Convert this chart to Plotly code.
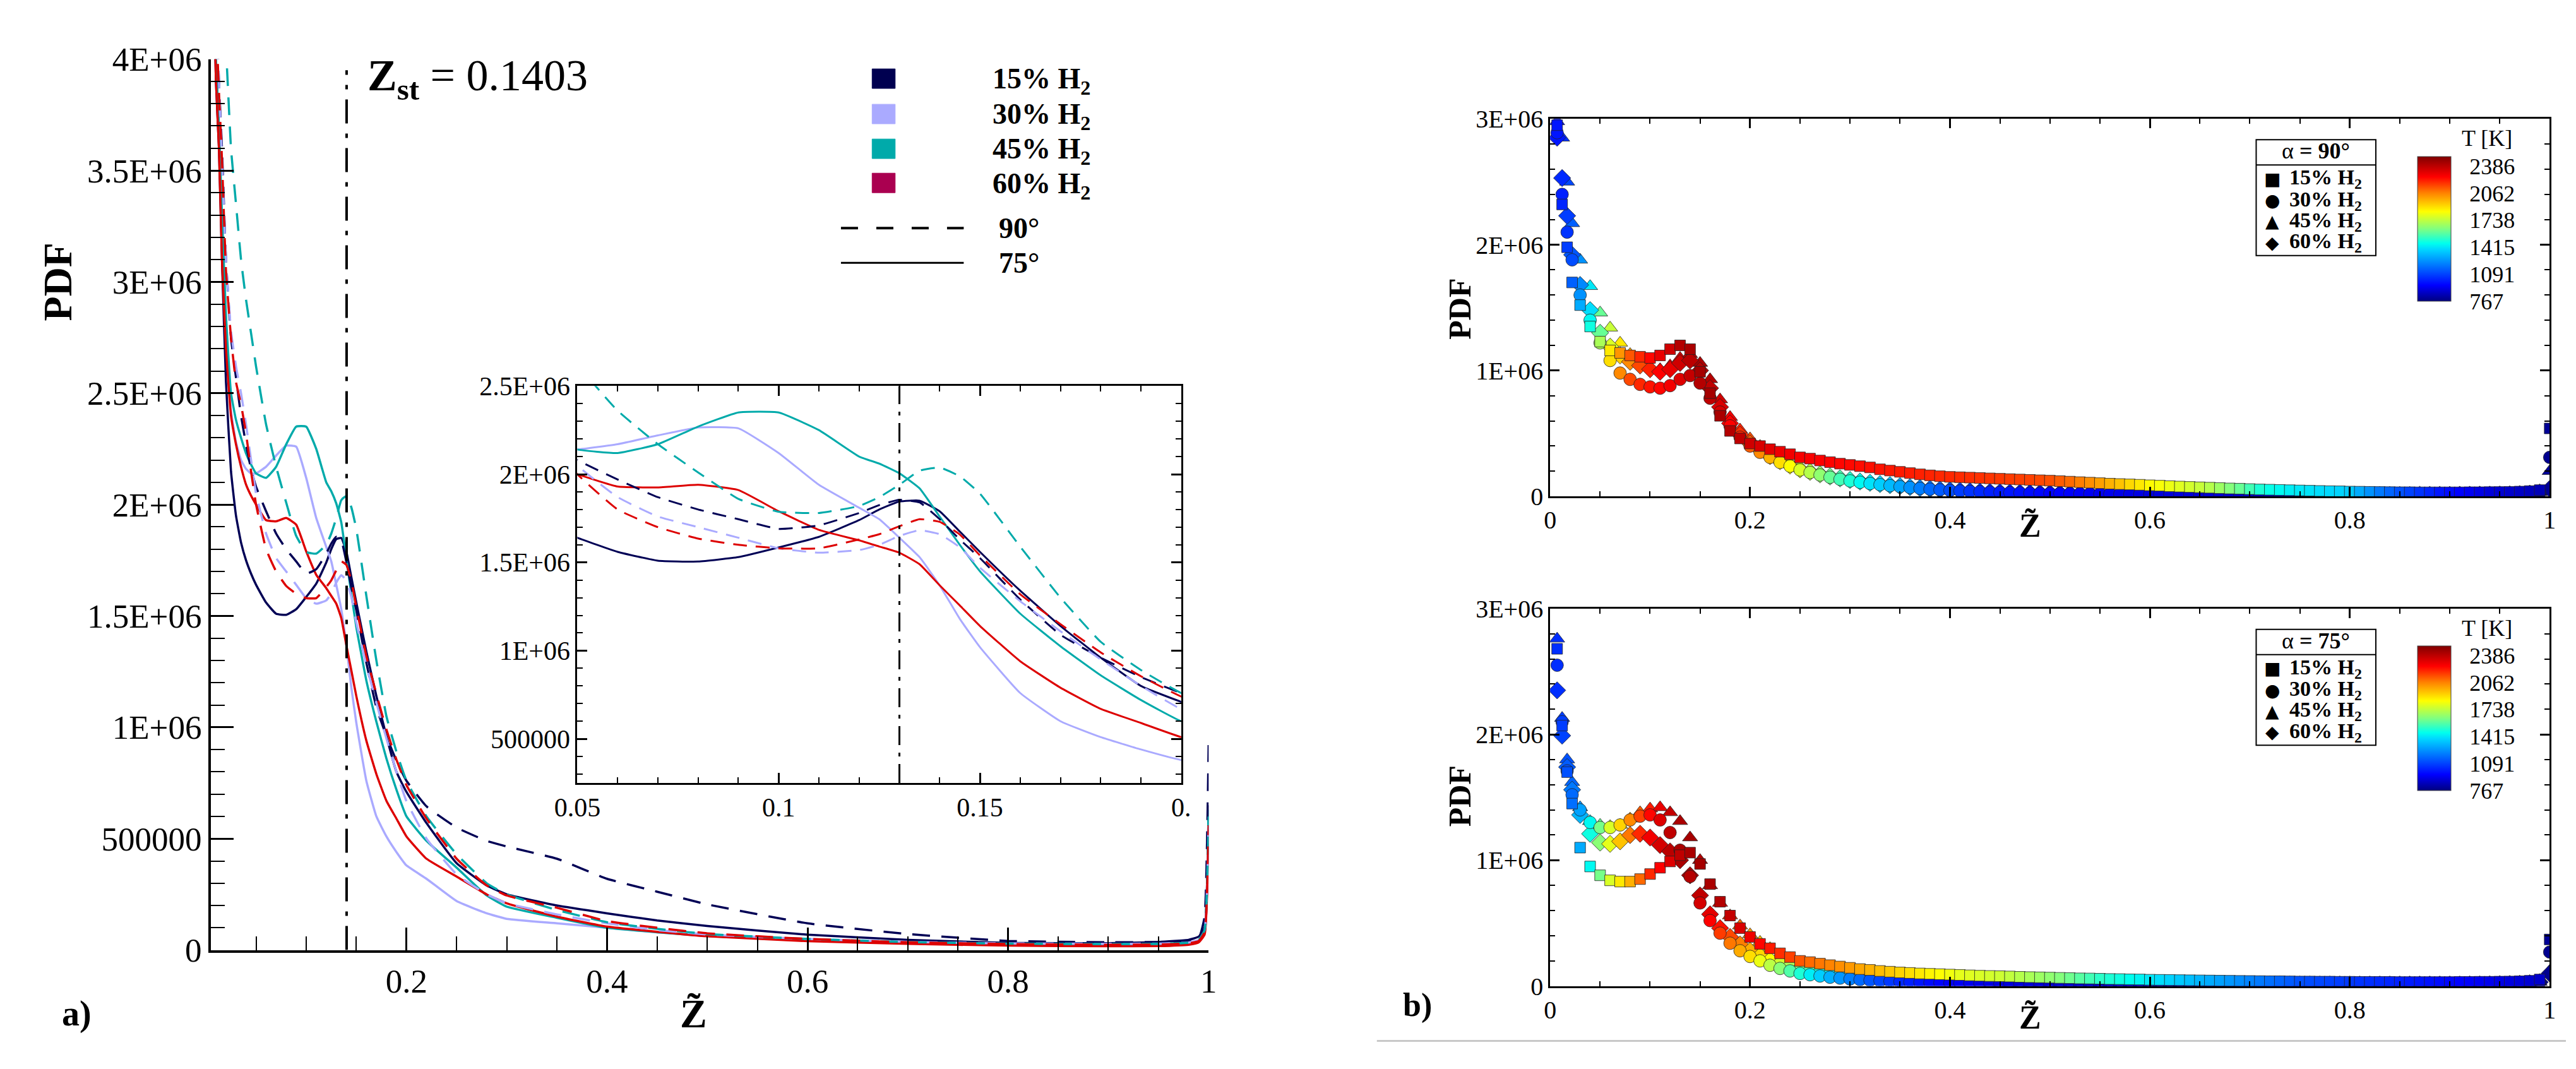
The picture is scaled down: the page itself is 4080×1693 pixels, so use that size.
import plotly.graph_objects as go

W, H = 4080, 1693
SERIF = "Liberation Serif"


def fx(p):
    return p / W


def fy(p):
    return 1 - p / H


# ----------------------------------------------------------------- data
# Panel a): PDF of mixture fraction (values in units of 1e6)
ZM = [0.008, 0.010, 0.013, 0.016, 0.020, 0.025, 0.030, 0.035, 0.040, 0.045,
      0.050, 0.060, 0.070, 0.080, 0.090, 0.100, 0.110, 0.120, 0.125, 0.130,
      0.135, 0.140, 0.145, 0.150, 0.160, 0.170, 0.180, 0.190, 0.200, 0.220,
      0.250, 0.280, 0.300, 0.350, 0.400, 0.450, 0.500, 0.600, 0.700, 0.800,
      0.900, 0.950, 0.980, 0.990, 0.996, 1.000]

A15_75 = [4.3, 3.9, 3.6, 3.1, 2.55, 2.15, 1.95, 1.83, 1.75, 1.69,
          1.64, 1.56, 1.51, 1.505, 1.53, 1.585, 1.645, 1.74, 1.80, 1.845,
          1.85, 1.79, 1.675, 1.56, 1.34, 1.14, 0.96, 0.80, 0.71, 0.57,
          0.39, 0.29, 0.25, 0.20, 0.165, 0.133, 0.108, 0.069, 0.046, 0.032,
          0.031, 0.036, 0.046, 0.06, 0.10, 0.65]
A15_90 = [4.6, 4.3, 3.9, 3.6, 3.1, 2.75, 2.57, 2.4, 2.27, 2.16,
          2.08, 1.97, 1.87, 1.80, 1.745, 1.69, 1.71, 1.78, 1.825, 1.855,
          1.84, 1.745, 1.63, 1.525, 1.29, 1.09, 0.96, 0.85, 0.76, 0.645,
          0.55, 0.49, 0.465, 0.41, 0.32, 0.262, 0.205, 0.12, 0.072, 0.041,
          0.035, 0.036, 0.04, 0.05, 0.15, 0.92]
A30_75 = [4.4, 4.0, 3.65, 3.2, 2.75, 2.42, 2.28, 2.2, 2.16, 2.14,
          2.14, 2.17, 2.22, 2.265, 2.26, 2.12, 1.94, 1.81, 1.745, 1.64,
          1.53, 1.37, 1.18, 1.02, 0.76, 0.60, 0.51, 0.44, 0.38, 0.32,
          0.22, 0.165, 0.14, 0.12, 0.10, 0.08, 0.065, 0.046, 0.035, 0.028,
          0.025, 0.026, 0.032, 0.042, 0.08, 0.55]
A30_90 = [4.6, 4.3, 3.9, 3.55, 3.1, 2.78, 2.62, 2.5, 2.36, 2.2,
          2.05, 1.87, 1.76, 1.70, 1.64, 1.58, 1.555, 1.57, 1.60, 1.65,
          1.683, 1.66, 1.586, 1.47, 1.28, 1.11, 0.95, 0.80, 0.668, 0.50,
          0.34, 0.25, 0.21, 0.16, 0.12, 0.09, 0.07, 0.05, 0.037, 0.03,
          0.028, 0.029, 0.034, 0.045, 0.09, 0.58]
A45_75 = [4.4, 4.0, 3.7, 3.3, 2.85, 2.5, 2.38, 2.3, 2.23, 2.18,
          2.14, 2.12, 2.17, 2.27, 2.35, 2.35, 2.25, 2.10, 2.06, 2.005,
          1.92, 1.76, 1.60, 1.45, 1.21, 1.025, 0.86, 0.72, 0.60, 0.49,
          0.37, 0.245, 0.195, 0.145, 0.10, 0.08, 0.063, 0.045, 0.032, 0.025,
          0.022, 0.024, 0.03, 0.04, 0.08, 0.63]
A45_90 = [5.0, 4.8, 4.5, 4.3, 4.05, 3.6, 3.35, 3.1, 2.92, 2.77,
          2.62, 2.36, 2.17, 2.01, 1.86, 1.787, 1.78, 1.82, 1.87, 1.94,
          2.02, 2.038, 1.988, 1.89, 1.59, 1.30, 1.05, 0.89, 0.76, 0.60,
          0.43, 0.30, 0.25, 0.18, 0.125, 0.095, 0.072, 0.05, 0.036, 0.029,
          0.027, 0.028, 0.033, 0.045, 0.09, 0.60]
A60_75 = [4.3, 3.9, 3.6, 3.1, 2.7, 2.4, 2.27, 2.17, 2.09, 2.04,
          2.0, 1.93, 1.925, 1.94, 1.91, 1.79, 1.685, 1.625, 1.59, 1.555,
          1.49, 1.37, 1.256, 1.14, 0.94, 0.79, 0.67, 0.59, 0.51, 0.41,
          0.33, 0.25, 0.21, 0.15, 0.105, 0.082, 0.062, 0.04, 0.028, 0.02,
          0.017, 0.018, 0.024, 0.034, 0.07, 0.54]
A60_90 = [4.5, 4.2, 3.85, 3.55, 3.05, 2.75, 2.55, 2.45, 2.32, 2.15,
          2.0, 1.8, 1.7, 1.635, 1.6, 1.58, 1.58, 1.63, 1.66, 1.705,
          1.745, 1.73, 1.658, 1.54, 1.32, 1.15, 0.99, 0.855, 0.74, 0.59,
          0.41, 0.29, 0.245, 0.19, 0.13, 0.10, 0.075, 0.05, 0.035, 0.027,
          0.024, 0.025, 0.03, 0.04, 0.08, 0.56]

Z_ST_MAIN = 0.1403
Z_ST_INSET = 0.13

# Panel b): PDF (units of 1e6) and temperature [K] along Z
ZR = [0.007, 0.012, 0.017, 0.022] + [round(0.03 + 0.01 * i, 2) for i in range(98)]

# alpha = 90 deg
U15 = [2.95, 2.32, 1.98, 1.70,
       1.52, 1.35, 1.23, 1.16, 1.14, 1.12, 1.11, 1.10, 1.12, 1.17,
       1.20, 1.17, 0.99, 0.82, 0.64, 0.52, 0.46, 0.42, 0.40, 0.375,
       0.355, 0.335, 0.31, 0.30, 0.285, 0.272, 0.26, 0.25,
       0.24, 0.23, 0.215, 0.205, 0.195, 0.185, 0.175, 0.167, 0.16, 0.155,
       0.152, 0.149, 0.146, 0.143, 0.14, 0.137, 0.134, 0.131, 0.128, 0.125,
       0.121, 0.117, 0.113, 0.109, 0.105, 0.101, 0.098, 0.095, 0.092, 0.088,
       0.085, 0.081, 0.078, 0.075, 0.072, 0.069, 0.066, 0.063, 0.061, 0.058,
       0.055, 0.053, 0.051, 0.049, 0.047, 0.045, 0.043, 0.041, 0.04, 0.038,
       0.037, 0.036, 0.035, 0.034, 0.033, 0.033, 0.032, 0.032, 0.032, 0.032,
       0.032, 0.033, 0.033, 0.034, 0.035, 0.036, 0.038, 0.042, 0.05, 0.54]
TU15 = [1000, 1030, 1080, 1150,
        1300, 1480, 1700, 1880, 2030, 2130, 2200, 2250, 2300, 2350,
        2400, 2420, 2430, 2430, 2420, 2400, 2380, 2350, 2330, 2310,
        2290, 2280, 2270, 2265, 2260, 2255, 2250, 2245,
        2240, 2235, 2230, 2225, 2220, 2215, 2210, 2205, 2200, 2200,
        2195, 2190, 2185, 2180, 2175, 2170, 2165, 2160, 2150, 2140,
        2120, 2100, 2070, 2040, 2010, 1980, 1950, 1910, 1880, 1850,
        1830, 1810, 1790, 1770, 1750, 1720, 1680, 1640, 1600, 1550,
        1500, 1470, 1450, 1430, 1420, 1410, 1400, 1390, 1380, 1360,
        1300, 1250, 1200, 1160, 1120, 1090, 1060, 1030, 1000, 980,
        960, 940, 920, 900, 890, 880, 870, 860, 850, 800]
U30 = [2.89, 2.40, 2.10, 1.88,
       1.60, 1.40, 1.22, 1.08, 0.98, 0.93, 0.89, 0.87, 0.86, 0.88,
       0.93, 0.96, 0.90, 0.78, 0.67, 0.56, 0.47, 0.40, 0.35, 0.31,
       0.27, 0.24, 0.21, 0.19, 0.17, 0.152, 0.136, 0.123,
       0.112, 0.102, 0.093, 0.085, 0.077, 0.07, 0.063, 0.057, 0.052, 0.047,
       0.043, 0.04, 0.037, 0.034, 0.032, 0.03, 0.028, 0.026, 0.025, 0.024,
       0.023, 0.022, 0.021, 0.020, 0.019, 0.018, 0.018, 0.017, 0.017, 0.016,
       0.016, 0.015, 0.015, 0.015, 0.014, 0.014, 0.014, 0.013, 0.013, 0.013,
       0.013, 0.012, 0.012, 0.012, 0.012, 0.012, 0.011, 0.011, 0.011, 0.011,
       0.011, 0.011, 0.011, 0.011, 0.011, 0.011, 0.011, 0.012, 0.012, 0.012,
       0.012, 0.013, 0.013, 0.014, 0.015, 0.016, 0.018, 0.022, 0.03, 0.31]
TU30 = [1000, 1020, 1060, 1110,
        1250, 1450, 1700, 1900, 2050, 2150, 2200, 2230, 2250, 2280,
        2320, 2370, 2400, 2380, 2330, 2260, 2200, 2120, 2050, 1980,
        1900, 1840, 1780, 1720, 1660, 1600, 1550, 1500,
        1450, 1410, 1370, 1330, 1290, 1250, 1210, 1170, 1140, 1110,
        1080, 1060, 1040, 1020, 1010, 1000, 990, 980, 970, 960,
        955, 950, 945, 940, 935, 930, 925, 920, 915, 910,
        905, 900, 900, 895, 890, 890, 885, 885, 880, 880,
        875, 875, 870, 870, 870, 865, 865, 860, 860, 860,
        855, 855, 850, 850, 850, 845, 845, 840, 840, 840,
        835, 835, 830, 830, 825, 825, 820, 815, 810, 790]
U45 = [2.98, 2.85, 2.50, 2.17,
       1.88, 1.67, 1.46, 1.34, 1.22, 1.13, 1.07, 1.03, 1.01, 1.04,
       1.10, 1.13, 1.06, 0.93, 0.77, 0.63, 0.53, 0.46, 0.40, 0.35,
       0.30, 0.26, 0.225, 0.205, 0.185, 0.168, 0.152, 0.14,
       0.127, 0.116, 0.105, 0.095, 0.086, 0.078, 0.07, 0.063, 0.057, 0.052,
       0.047, 0.043, 0.04, 0.037, 0.034, 0.032, 0.03, 0.028, 0.027, 0.026,
       0.025, 0.024, 0.023, 0.022, 0.021, 0.02, 0.019, 0.019, 0.018, 0.018,
       0.017, 0.017, 0.016, 0.016, 0.016, 0.015, 0.015, 0.015, 0.014, 0.014,
       0.014, 0.014, 0.013, 0.013, 0.013, 0.013, 0.013, 0.013, 0.012, 0.012,
       0.012, 0.012, 0.012, 0.012, 0.012, 0.012, 0.013, 0.013, 0.013, 0.013,
       0.014, 0.014, 0.015, 0.015, 0.016, 0.017, 0.019, 0.023, 0.032, 0.20]
TU45 = [1000, 1050, 1100, 1150,
        1250, 1420, 1600, 1750, 1880, 2000, 2120, 2200, 2260, 2310,
        2360, 2400, 2420, 2400, 2350, 2280, 2210, 2140, 2070, 2000,
        1930, 1860, 1800, 1740, 1680, 1620, 1570, 1520,
        1470, 1430, 1390, 1350, 1310, 1270, 1230, 1190, 1160, 1130,
        1100, 1080, 1060, 1040, 1020, 1010, 1000, 990, 980, 970,
        960, 955, 950, 945, 940, 935, 930, 925, 920, 915,
        910, 905, 900, 900, 895, 890, 890, 885, 885, 880,
        880, 875, 875, 870, 870, 865, 865, 860, 860, 860,
        855, 855, 850, 850, 850, 845, 845, 840, 840, 840,
        835, 835, 830, 830, 825, 825, 820, 815, 810, 800]
U60 = [2.85, 2.53, 2.23, 1.92,
       1.68, 1.48, 1.30, 1.19, 1.12, 1.07, 1.04, 1.01, 0.99, 1.01,
       1.06, 1.08, 1.00, 0.86, 0.71, 0.58, 0.49, 0.42, 0.37, 0.32,
       0.28, 0.245, 0.215, 0.195, 0.175, 0.158, 0.143, 0.13,
       0.118, 0.108, 0.098, 0.089, 0.081, 0.073, 0.066, 0.06, 0.054, 0.049,
       0.045, 0.041, 0.038, 0.035, 0.033, 0.031, 0.029, 0.027, 0.026, 0.025,
       0.024, 0.023, 0.022, 0.021, 0.02, 0.019, 0.018, 0.018, 0.017, 0.017,
       0.016, 0.016, 0.015, 0.015, 0.015, 0.014, 0.014, 0.014, 0.013, 0.013,
       0.013, 0.013, 0.012, 0.012, 0.012, 0.012, 0.012, 0.012, 0.011, 0.011,
       0.011, 0.011, 0.011, 0.011, 0.011, 0.011, 0.012, 0.012, 0.012, 0.012,
       0.013, 0.013, 0.014, 0.014, 0.015, 0.016, 0.018, 0.022, 0.031, 0.06]
TU60 = [1000, 1040, 1080, 1130,
        1230, 1400, 1600, 1780, 1930, 2050, 2150, 2210, 2260, 2300,
        2350, 2390, 2400, 2380, 2330, 2260, 2190, 2120, 2050, 1980,
        1910, 1850, 1790, 1730, 1670, 1610, 1560, 1510,
        1460, 1420, 1380, 1340, 1300, 1260, 1220, 1180, 1150, 1120,
        1090, 1070, 1050, 1030, 1015, 1005, 995, 985, 975, 965,
        960, 955, 950, 945, 940, 935, 930, 925, 920, 915,
        910, 905, 900, 900, 895, 890, 890, 885, 885, 880,
        880, 875, 875, 870, 870, 865, 865, 860, 860, 860,
        855, 855, 850, 850, 850, 845, 845, 840, 840, 840,
        835, 835, 830, 830, 825, 825, 820, 815, 810, 800]

# alpha = 75 deg
L15 = [2.68, 2.07, 1.70, 1.45,
       1.10, 0.95, 0.88, 0.84, 0.83, 0.83, 0.85, 0.89, 0.94, 0.99,
       1.04, 1.06, 0.97, 0.81, 0.67, 0.56, 0.46, 0.39, 0.335, 0.30,
       0.26, 0.23, 0.20, 0.19, 0.178, 0.166, 0.155, 0.145,
       0.135, 0.128, 0.12, 0.114, 0.108, 0.104, 0.1, 0.097, 0.094, 0.091,
       0.088, 0.085, 0.082, 0.08, 0.078, 0.076, 0.073, 0.071, 0.069, 0.067,
       0.065, 0.063, 0.061, 0.06, 0.058, 0.056, 0.055, 0.053, 0.052, 0.05,
       0.049, 0.048, 0.047, 0.046, 0.045, 0.044, 0.043, 0.042, 0.041, 0.04,
       0.039, 0.038, 0.038, 0.037, 0.036, 0.036, 0.035, 0.035, 0.034, 0.034,
       0.033, 0.033, 0.033, 0.033, 0.032, 0.032, 0.032, 0.032, 0.032, 0.032,
       0.033, 0.033, 0.034, 0.034, 0.035, 0.036, 0.038, 0.042, 0.052, 0.37]
TL15 = [1050, 1080, 1120, 1180,
        1300, 1450, 1620, 1780, 1880, 1980, 2100, 2200, 2260, 2320,
        2380, 2420, 2430, 2420, 2400, 2370, 2330, 2290, 2250, 2220,
        2190, 2160, 2130, 2100, 2080, 2060, 2040, 2020,
        2000, 1980, 1960, 1940, 1920, 1900, 1880, 1860, 1840, 1820,
        1800, 1790, 1780, 1770, 1760, 1740, 1720, 1700, 1680, 1660,
        1640, 1610, 1580, 1550, 1520, 1500, 1480, 1460, 1440, 1420,
        1400, 1380, 1360, 1340, 1320, 1300, 1280, 1260, 1240, 1220,
        1200, 1180, 1160, 1140, 1120, 1110, 1100, 1090, 1080, 1070,
        1060, 1050, 1040, 1030, 1020, 1010, 1000, 990, 980, 970,
        960, 950, 940, 930, 920, 910, 900, 890, 880, 800]
L30 = [2.55, 2.10, 1.71, 1.52,
       1.40, 1.30, 1.26, 1.26, 1.28, 1.32, 1.35, 1.36, 1.32, 1.22,
       1.08, 0.87, 0.66, 0.52, 0.42, 0.34, 0.28, 0.235, 0.20, 0.165,
       0.14, 0.12, 0.10, 0.09, 0.08, 0.07, 0.063, 0.056,
       0.051, 0.046, 0.042, 0.038, 0.035, 0.032, 0.03, 0.028, 0.026, 0.024,
       0.023, 0.022, 0.021, 0.02, 0.019, 0.018, 0.018, 0.017, 0.017, 0.016,
       0.016, 0.015, 0.015, 0.015, 0.014, 0.014, 0.014, 0.013, 0.013, 0.013,
       0.013, 0.013, 0.012, 0.012, 0.012, 0.012, 0.012, 0.012, 0.011, 0.011,
       0.011, 0.011, 0.011, 0.011, 0.011, 0.011, 0.011, 0.011, 0.011, 0.011,
       0.011, 0.011, 0.011, 0.011, 0.011, 0.011, 0.011, 0.011, 0.012, 0.012,
       0.012, 0.012, 0.013, 0.013, 0.014, 0.015, 0.017, 0.021, 0.03, 0.27]
TL30 = [1050, 1080, 1120, 1170,
        1280, 1450, 1620, 1780, 1920, 2050, 2160, 2250, 2320, 2380,
        2420, 2400, 2340, 2260, 2170, 2080, 1990, 1900, 1810, 1730,
        1650, 1570, 1500, 1430, 1370, 1310, 1260, 1210,
        1170, 1130, 1100, 1070, 1040, 1020, 1000, 980, 965, 950,
        940, 930, 920, 915, 910, 905, 900, 895, 890, 885,
        880, 878, 876, 874, 872, 870, 868, 866, 864, 862,
        860, 858, 856, 854, 852, 850, 848, 846, 844, 842,
        840, 838, 836, 834, 832, 830, 828, 826, 824, 822,
        820, 818, 816, 814, 812, 810, 808, 806, 804, 802,
        800, 800, 800, 800, 800, 800, 800, 800, 800, 790]
L45 = [2.76, 2.13, 1.80, 1.62,
       1.42, 1.31, 1.28, 1.27, 1.28, 1.33, 1.38, 1.41, 1.42, 1.38,
       1.31, 1.18, 1.0, 0.80, 0.66, 0.56, 0.48, 0.41, 0.35, 0.30,
       0.25, 0.22, 0.19, 0.17, 0.15, 0.13, 0.115, 0.10,
       0.092, 0.084, 0.077, 0.07, 0.064, 0.058, 0.053, 0.048, 0.044, 0.04,
       0.037, 0.034, 0.032, 0.03, 0.028, 0.026, 0.025, 0.024, 0.023, 0.022,
       0.021, 0.02, 0.019, 0.019, 0.018, 0.018, 0.017, 0.017, 0.016, 0.016,
       0.016, 0.015, 0.015, 0.015, 0.015, 0.014, 0.014, 0.014, 0.014, 0.014,
       0.013, 0.013, 0.013, 0.013, 0.013, 0.013, 0.013, 0.013, 0.013, 0.013,
       0.013, 0.013, 0.013, 0.013, 0.013, 0.013, 0.013, 0.013, 0.013, 0.013,
       0.013, 0.014, 0.014, 0.015, 0.016, 0.017, 0.019, 0.023, 0.032, 0.12]
TL45 = [1050, 1080, 1120, 1160,
        1250, 1420, 1600, 1750, 1880, 2000, 2120, 2220, 2300, 2370,
        2420, 2430, 2400, 2340, 2260, 2180, 2100, 2020, 1950, 1880,
        1800, 1720, 1650, 1580, 1520, 1460, 1400, 1340,
        1290, 1240, 1190, 1150, 1110, 1080, 1050, 1020, 1000, 980,
        965, 950, 940, 930, 920, 912, 905, 898, 892, 886,
        880, 876, 872, 868, 864, 860, 857, 854, 851, 848,
        845, 843, 841, 839, 837, 835, 833, 831, 829, 827,
        825, 824, 823, 822, 821, 820, 819, 818, 817, 816,
        815, 814, 813, 812, 811, 810, 809, 808, 807, 806,
        805, 804, 803, 802, 801, 800, 799, 798, 797, 790]
L60 = [2.35, 1.99, 1.74, 1.56,
       1.36, 1.21, 1.14, 1.13, 1.15, 1.20, 1.21, 1.18, 1.12, 1.07,
       1.0, 0.88, 0.72, 0.57, 0.46, 0.39, 0.33, 0.28, 0.24, 0.205,
       0.18, 0.16, 0.14, 0.125, 0.112, 0.1, 0.09, 0.08,
       0.072, 0.065, 0.059, 0.054, 0.05, 0.046, 0.042, 0.039, 0.036, 0.033,
       0.031, 0.029, 0.027, 0.026, 0.025, 0.024, 0.023, 0.022, 0.021, 0.02,
       0.019, 0.019, 0.018, 0.018, 0.017, 0.017, 0.016, 0.016, 0.016, 0.015,
       0.015, 0.015, 0.015, 0.014, 0.014, 0.014, 0.014, 0.013, 0.013, 0.013,
       0.013, 0.013, 0.013, 0.012, 0.012, 0.012, 0.012, 0.012, 0.012, 0.012,
       0.012, 0.012, 0.012, 0.012, 0.012, 0.012, 0.012, 0.012, 0.012, 0.012,
       0.012, 0.013, 0.013, 0.014, 0.015, 0.016, 0.018, 0.022, 0.031, 0.10]
TL60 = [1050, 1090, 1140, 1200,
        1320, 1480, 1650, 1800, 1950, 2080, 2200, 2280, 2340, 2390,
        2420, 2420, 2380, 2310, 2230, 2150, 2070, 1990, 1910, 1840,
        1770, 1700, 1630, 1560, 1500, 1440, 1380, 1330,
        1280, 1230, 1190, 1150, 1110, 1080, 1050, 1020, 1000, 980,
        965, 950, 940, 930, 920, 912, 905, 898, 892, 886,
        880, 876, 872, 868, 864, 860, 857, 854, 851, 848,
        845, 843, 841, 839, 837, 835, 833, 831, 829, 827,
        825, 824, 823, 822, 821, 820, 819, 818, 817, 816,
        815, 814, 813, 812, 811, 810, 809, 808, 807, 806,
        805, 804, 803, 802, 801, 800, 799, 798, 797, 790]

T_TICKS = [767, 1091, 1415, 1738, 2062, 2386]
T_MIN, T_MAX = 767, 2500

for name, arr in [("A15_75", A15_75), ("A15_90", A15_90), ("A30_75", A30_75),
                  ("A30_90", A30_90), ("A45_75", A45_75), ("A45_90", A45_90),
                  ("A60_75", A60_75), ("A60_90", A60_90)]:
    if len(arr) != len(ZM):
        raise ValueError(f"{name}: {len(arr)} vs {len(ZM)}")
for name, arr in [("U15", U15), ("TU15", TU15), ("U30", U30), ("TU30", TU30),
                  ("U45", U45), ("TU45", TU45), ("U60", U60), ("TU60", TU60),
                  ("L15", L15), ("TL15", TL15), ("L30", L30), ("TL30", TL30),
                  ("L45", L45), ("TL45", TL45), ("L60", L60), ("TL60", TL60)]:
    if len(arr) != len(ZR):
        raise ValueError(f"{name}: {len(arr)} vs {len(ZR)}")

# ----------------------------------------------------------------- style
NAVY = "#000055"
LAV = "#AAAAFF"
TEAL = "#00AAAA"
RED = "#DD0000"
LEG_COLORS = ["#000050", "#AAAAFF", "#00AAAA", "#AA0050"]

JET = [[0.0, "#000080"], [0.11, "#0000ff"], [0.36, "#00d8ff"], [0.40, "#00ffee"],
       [0.5, "#80ff80"], [0.62, "#ffff00"], [0.75, "#ff8000"], [0.86, "#ff0000"],
       [1.0, "#800000"]]

fig = go.Figure()

main_lines = [
    (A15_75, NAVY, "solid"), (A30_75, LAV, "solid"), (A45_75, TEAL, "solid"),
    (A60_75, RED, "solid"),
    (A15_90, NAVY, "dash"), (A30_90, LAV, "dash"), (A45_90, TEAL, "dash"),
    (A60_90, RED, "dash"),
]
for vals, col, dash in main_lines:
    yv = [v * 1e6 for v in vals]
    fig.add_trace(go.Scatter(
        x=ZM, y=yv, mode="lines", xaxis="x", yaxis="y", hoverinfo="skip",
        line=dict(color=col, width=3.5, shape="spline", smoothing=0.4,
                  dash="solid" if dash == "solid" else "28px,18px")))
for vals, col, dash in main_lines:
    yv = [v * 1e6 for v in vals]
    fig.add_trace(go.Scatter(
        x=ZM, y=yv, mode="lines", xaxis="x2", yaxis="y2", hoverinfo="skip",
        line=dict(color=col, width=3, shape="spline", smoothing=0.4,
                  dash="solid" if dash == "solid" else "22px,14px")))

SYMS = {"15": ("square", 17), "30": ("circle", 20), "45": ("triangle-up", 21),
        "60": ("diamond", 21)}
upper = [("45", U45, TU45), ("60", U60, TU60), ("30", U30, TU30), ("15", U15, TU15)]
lower = [("45", L45, TL45), ("60", L60, TL60), ("30", L30, TL30), ("15", L15, TL15)]
for panel, (xa, ya, cax) in [(upper, ("x3", "y3", "coloraxis")),
                             (lower, ("x4", "y4", "coloraxis2"))]:
    for key, pv, tv in panel:
        sym, size = SYMS[key]
        fig.add_trace(go.Scatter(
            x=ZR, y=[v * 1e6 for v in pv], mode="markers", xaxis=xa, yaxis=ya,
            hoverinfo="skip",
            marker=dict(symbol=sym, size=size, color=tv, coloraxis=cax,
                        line=dict(color="#222222", width=0.8))))

# ----------------------------------------------------------------- axes
TF = lambda s: dict(family=SERIF, size=s, color="black")


def ax(**kw):
    base = dict(showgrid=False, zeroline=False, showline=True, linecolor="black",
                ticks="inside", tickcolor="black")
    base.update(kw)
    return base


MAIN_XT = [0.2, 0.4, 0.6, 0.8, 1.0]
MAIN_XL = ["0.2", "0.4", "0.6", "0.8", "1"]
MAIN_YT = [0, 5e5, 1e6, 1.5e6, 2e6, 2.5e6, 3e6, 3.5e6, 4e6]
MAIN_YL = ["0", "500000", "1E+06", "1.5E+06", "2E+06", "2.5E+06", "3E+06",
           "3.5E+06", "4E+06"]
INS_XT = [0.05, 0.1, 0.15, 0.2]
INS_XL = ["0.05", "0.1", "0.15", "0."]
INS_YT = [5e5, 1e6, 1.5e6, 2e6, 2.5e6]
INS_YL = ["500000", "1E+06", "1.5E+06", "2E+06", "2.5E+06"]
R_XT = [0, 0.2, 0.4, 0.6, 0.8, 1.0]
R_XL = ["0", "0.2", "0.4", "0.6", "0.8", "1"]
R_YT = [0, 1e6, 2e6, 3e6]
R_YL = ["0", "1E+06", "2E+06", "3E+06"]

minor_x = [round(0.05 * i, 2) for i in range(1, 20) if i % 4]
minor_main_y = [1e5 * i for i in range(1, 40) if i % 5]
minor_ins_x = [round(0.05 + 0.01 * i, 2) for i in range(1, 15) if i % 5]
minor_ins_y = [1e5 * i for i in range(3, 25) if i % 5]
minor_r_y = [2e5 * i for i in range(1, 15) if i % 5]

layout = dict(
    width=W, height=H, margin=dict(l=0, r=0, t=0, b=0),
    paper_bgcolor="white", plot_bgcolor="#ffffff", showlegend=False,
    xaxis=ax(domain=[fx(301), fx(1902)], range=[0.005, 1.0], anchor="y",
             tickmode="array", tickvals=MAIN_XT, ticktext=MAIN_XL, ticklen=36,
             tickwidth=3, linewidth=4, tickfont=TF(53),
             minor=dict(tickmode="array", tickvals=minor_x, ticklen=22, tickwidth=2,
                        ticks="inside", tickcolor="black")),
    yaxis=ax(domain=[fy(1529), fy(68)], range=[0, 4e6], anchor="x",
             tickmode="array", tickvals=MAIN_YT, ticktext=MAIN_YL, ticklen=36,
             tickwidth=3, linewidth=4, tickfont=TF(53),
             minor=dict(tickmode="array", tickvals=minor_main_y, ticklen=22,
                        tickwidth=2, ticks="inside", tickcolor="black")),
    xaxis2=ax(domain=[fx(889), fx(1858)], range=[0.05, 0.2], anchor="y2",
              mirror="allticks", tickmode="array", tickvals=INS_XT, ticktext=INS_XL,
              ticklen=16, tickwidth=3, linewidth=3, tickfont=TF(42),
              minor=dict(tickmode="array", tickvals=minor_ins_x, ticklen=9,
                         tickwidth=1.5, ticks="inside", tickcolor="black")),
    yaxis2=ax(domain=[fy(1255), fy(604)], range=[2.5e5, 2.5e6], anchor="x2",
              mirror="allticks", tickmode="array", tickvals=INS_YT, ticktext=INS_YL,
              ticklen=16, tickwidth=3, linewidth=3, tickfont=TF(42),
              minor=dict(tickmode="array", tickvals=minor_ins_y, ticklen=9,
                         tickwidth=1.5, ticks="inside", tickcolor="black")),
)
for i, (top, bot) in zip((3, 4), ((166, 785), (969, 1588))):
    layout[f"xaxis{i}"] = ax(domain=[fx(2450), fx(4054)], range=[0, 1], anchor=f"y{i}",
                             mirror="allticks", tickmode="array", tickvals=R_XT,
                             ticktext=R_XL, ticklen=15, tickwidth=2.5, linewidth=3,
                             tickfont=TF(40),
                             minor=dict(tickmode="array", tickvals=minor_x, ticklen=8,
                                        tickwidth=1.5, ticks="inside",
                                        tickcolor="black"))
    layout[f"yaxis{i}"] = ax(domain=[fy(bot), fy(top)], range=[0, 3e6], anchor=f"x{i}",
                             mirror="allticks", tickmode="array", tickvals=R_YT,
                             ticktext=R_YL, ticklen=15, tickwidth=2.5, linewidth=3,
                             tickfont=TF(40),
                             minor=dict(tickmode="array", tickvals=minor_r_y, ticklen=8,
                                        tickwidth=1.5, ticks="inside",
                                        tickcolor="black"))


def cbar(ycenter):
    return dict(colorscale=JET, cmin=T_MIN, cmax=T_MAX,
                colorbar=dict(x=fx(3842), xanchor="left", xpad=0,
                              y=fy(ycenter), yanchor="middle", ypad=0,
                              len=229, lenmode="pixels", thickness=53,
                              thicknessmode="pixels", tickmode="array",
                              tickvals=T_TICKS, ticktext=[str(t) for t in T_TICKS],
                              tickfont=TF(36), ticks="outside", ticklen=22,
                              tickcolor="rgba(0,0,0,0)", outlinewidth=1,
                              outlinecolor="#444444"))


layout["coloraxis"] = cbar(346.5)
layout["coloraxis2"] = cbar(1149)
fig.update_layout(**layout)

# ----------------------------------------------------------------- shapes
shapes = []
# Z_st lines
shapes.append(dict(type="line", xref="x", yref="y", x0=Z_ST_MAIN, x1=Z_ST_MAIN,
                   y0=0, y1=3.95e6, line=dict(color="black", width=4,
                                              dash="38px,16px,7px,16px")))
shapes.append(dict(type="line", xref="x2", yref="y2", x0=Z_ST_INSET, x1=Z_ST_INSET,
                   y0=2.5e5, y1=2.5e6, line=dict(color="black", width=3,
                                                 dash="30px,12px,6px,12px")))
# left legend squares
LEG_Y = [100, 158, 215, 271]
for yc, col in zip(LEG_Y, LEG_COLORS):
    shapes.append(dict(type="rect", xref="paper", yref="paper", x0=fx(1362),
                       x1=fx(1399), y0=fy(yc + 16), y1=fy(yc - 16), fillcolor=col,
                       line=dict(color=col, width=1)))
shapes.append(dict(type="line", xref="paper", yref="paper", x0=fx(1312), x1=fx(1509),
                   y0=fy(345), y1=fy(345),
                   line=dict(color="black", width=4, dash="27px,29px")))
shapes.append(dict(type="line", xref="paper", yref="paper", x0=fx(1312), x1=fx(1509),
                   y0=fy(402), y1=fy(402), line=dict(color="black", width=3)))
# right legend boxes
for off in (0, 803):
    shapes.append(dict(type="rect", xref="paper", yref="paper", x0=fx(3583), x1=fx(3775),
                       y0=fy(390 + off), y1=fy(200 + off), fillcolor="white",
                       line=dict(color="black", width=2)))
    shapes.append(dict(type="line", xref="paper", yref="paper", x0=fx(3583), x1=fx(3775),
                       y0=fy(241.5 + off), y1=fy(241.5 + off),
                       line=dict(color="black", width=2)))
# light rule at the bottom of panel b
shapes.append(dict(type="line", xref="paper", yref="paper", x0=fx(2172), x1=1.0,
                   y0=fy(1678), y1=fy(1678), line=dict(color="#c8c8c8", width=3)))

# ----------------------------------------------------------------- text
anns = []


def text(t, x, y, size, xanchor="left", angle=0, family=SERIF, color="black"):
    anns.append(dict(text=t, x=fx(x), y=fy(y), xref="paper", yref="paper",
                     xanchor=xanchor, yanchor="middle", showarrow=False,
                     textangle=angle, font=dict(family=family, size=size, color=color)))


text("<b>Z</b><sub><b>st</b></sub> = 0.1403", 550, 100, 70)
for yc, pct in zip(LEG_Y, ["15", "30", "45", "60"]):
    text(f"<b>{pct}% H<sub>2</sub></b>", 1553, yc + 4, 46)
text("<b>90°</b>", 1563, 345, 46)
text("<b>75°</b>", 1563, 402, 46)
text("<b>PDF</b>", 55, 433, 64, xanchor="center", angle=-90)
text("<b>Z\u0303</b>", 1075, 1633, 64, xanchor="center")
text("<b>a)</b>", 60, 1633, 56)
text("<b>PDF</b>", 2305, 478, 50, xanchor="center", angle=-90)
text("<b>PDF</b>", 2305, 1277, 50, xanchor="center", angle=-90)
text("<b>Z\u0303</b>", 3220, 833, 52, xanchor="center")
text("<b>Z\u0303</b>", 3220, 1640, 52, xanchor="center")
text("<b>b)</b>", 2212, 1619, 52)
for off, ang in ((0, "90"), (803, "75")):
    text(f"α <b>= {ang}°</b>", 3679, 219 + off, 36, xanchor="center")
    text("T [K]", 3953, 198 + off, 36, xanchor="center")
    for yc, pct, g in zip([264.5, 300, 334, 369], ["15", "30", "45", "60"],
                          ["■", "●", "▲", "◆"]):
        text(g, 3609, yc + off, 28, xanchor="center", family="DejaVu Sans")
        text(f"<b>{pct}% H<sub>2</sub></b>", 3634, yc + off, 34)

fig.update_layout(shapes=shapes, annotations=anns)

fig.write_html("out.html", config={"displayModeBar": False},
               post_script="document.body.style.margin='0';"
                           "document.body.style.overflow='hidden';")
